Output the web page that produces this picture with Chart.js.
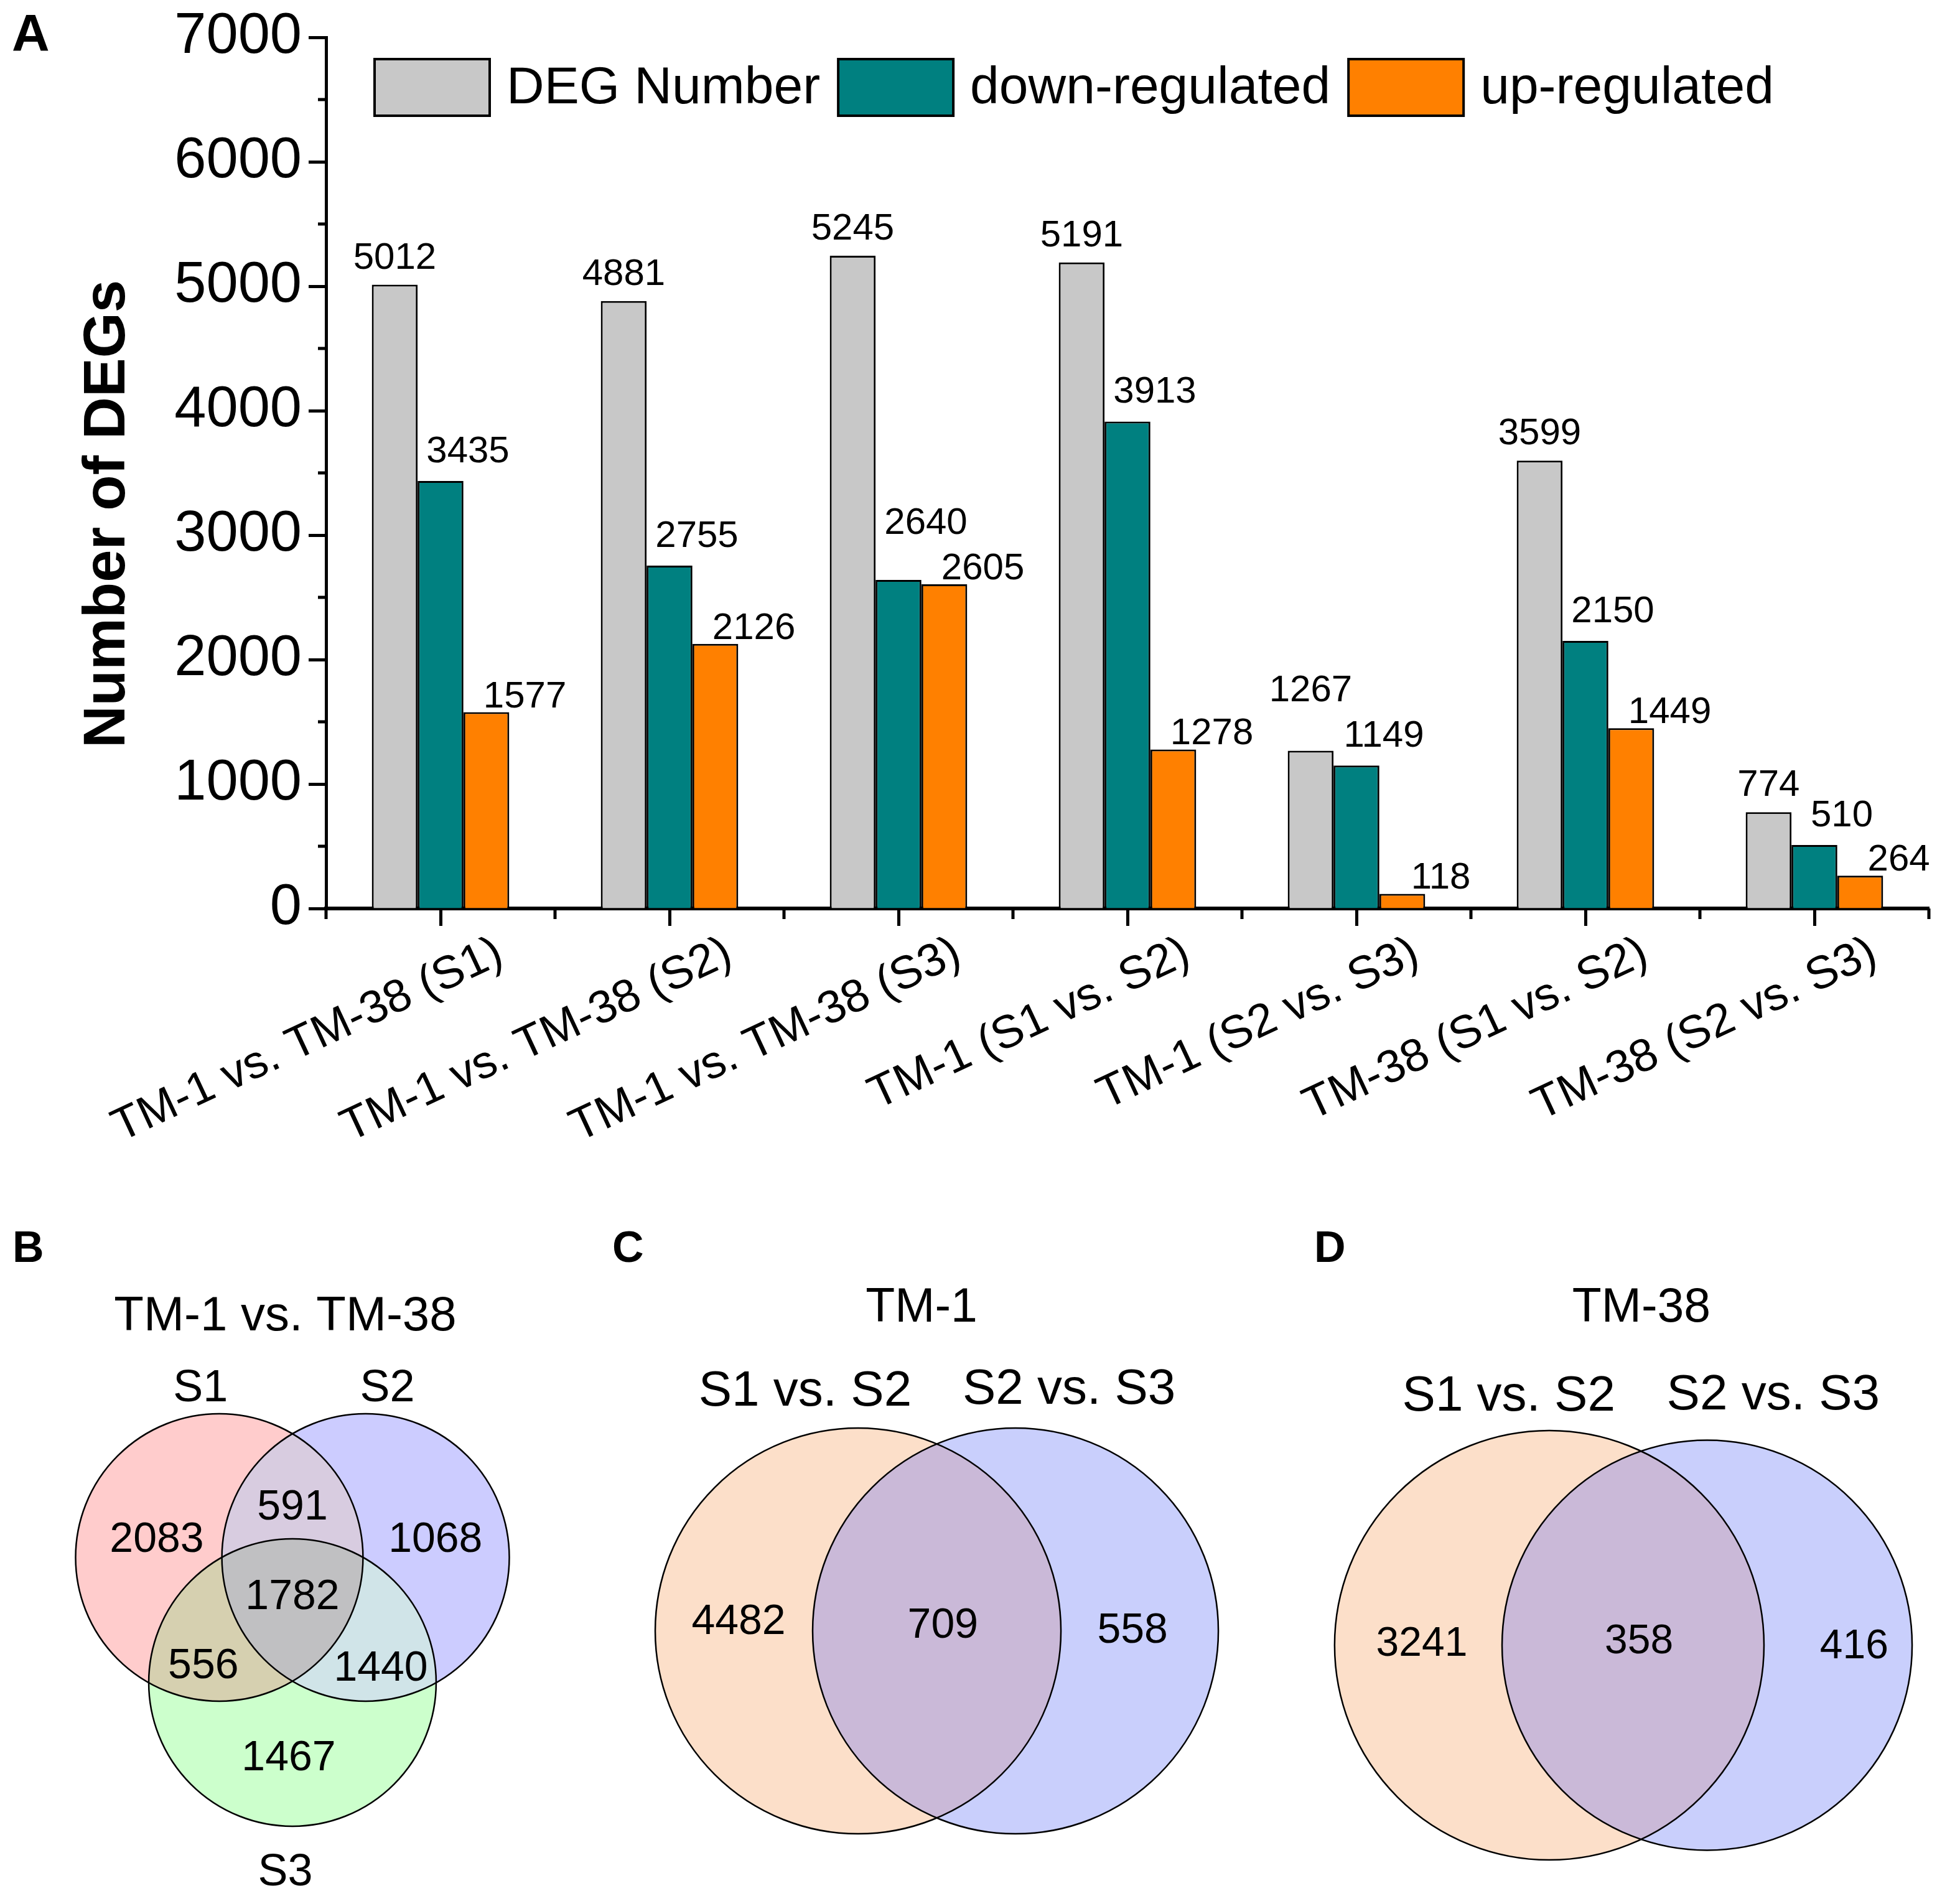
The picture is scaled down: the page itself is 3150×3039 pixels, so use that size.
<!DOCTYPE html>
<html>
<head>
<meta charset="utf-8">
<title>DEG numbers and Venn diagrams</title>
<script src="https://cdn.jsdelivr.net/npm/chart.js@4.4.1/dist/chart.umd.min.js"></script>
<style>
  body { margin: 0; background: #fff; width: 3150px; height: 3039px; position: relative; overflow: hidden; }
  canvas { position: absolute; }
  .panel { position: absolute; font-family: 'Liberation Sans', Arial, sans-serif; font-weight: bold; line-height: 1; color: #000; }
</style>
</head>
<body>
<canvas id="bars" width="3150" height="1900" style="left:0;top:0"></canvas>
<canvas id="vennB" width="940" height="1139" style="left:0;top:1900px"></canvas>
<canvas id="vennC" width="1100" height="1139" style="left:950px;top:1900px"></canvas>
<canvas id="vennD" width="1100" height="1139" style="left:2050px;top:1900px"></canvas>
<div class="panel" style="left:19px;top:11px;font-size:84px">A</div>
<div class="panel" style="left:20px;top:1969px;font-size:70px">B</div>
<div class="panel" style="left:984px;top:1969px;font-size:70px">C</div>
<div class="panel" style="left:2112px;top:1969px;font-size:70px">D</div>
<script>
// Panel A data
var categories = ['TM-1 vs. TM-38 (S1)', 'TM-1 vs. TM-38 (S2)', 'TM-1 vs. TM-38 (S3)',
                  'TM-1 (S1 vs. S2)', 'TM-1 (S2 vs. S3)', 'TM-38 (S1 vs. S2)', 'TM-38 (S2 vs. S3)'];
var degNumber     = [5012, 4881, 5245, 5191, 1267, 3599, 774];
var downRegulated = [3435, 2755, 2640, 3913, 1149, 2150, 510];
var upRegulated   = [1577, 2126, 2605, 1278, 118, 1449, 264];
var seriesNames  = ['DEG Number', 'down-regulated', 'up-regulated'];
var seriesColors = ['#c8c8c8', '#008080', '#ff8000'];
var yMin = 0, yMax = 7000, yStep = 1000;

// Venn data (panels B, C, D)
var vennBTitle  = 'TM-1 vs. TM-38';
var vennBSets   = ['S1', 'S2', 'S3'];
var vennBCounts = [2083, 591, 1068, 556, 1782, 1440, 1467];
var vennCTitle  = 'TM-1';
var vennCSets   = ['S1 vs. S2', 'S2 vs. S3'];
var vennCCounts = [4482, 709, 558];
var vennDTitle  = 'TM-38';
var vennDSets   = ['S1 vs. S2', 'S2 vs. S3'];
var vennDCounts = [3241, 358, 416];

var FONT = "'Liberation Sans', Arial, sans-serif";
Chart.defaults.font.family = FONT;
Chart.defaults.color = '#000';

// ----------------------------------------
// Panel A: grouped bar chart
// ----------------------------------------

// short ticks between the long ones (y at half steps, x at category edges)
var minorTicks = {
  id: 'minorTicks',
  afterDraw: function(chart) {
    var ctx = chart.ctx, x = chart.scales.x, y = chart.scales.y;
    ctx.save();
    ctx.strokeStyle = '#000';
    ctx.lineWidth = 5;
    ctx.beginPath();
    for (var v = yMin + yStep / 2; v < yMax; v += yStep) {
      var py = y.getPixelForValue(v);
      ctx.moveTo(chart.chartArea.left - 13, py);
      ctx.lineTo(chart.chartArea.left, py);
    }
    for (var i = 0; i <= categories.length; i++) {
      var px = x.getPixelForValue(i - 0.5);
      ctx.moveTo(px, chart.chartArea.bottom);
      ctx.lineTo(px, chart.chartArea.bottom + 17);
    }
    ctx.stroke();
    ctx.restore();
  }
};

// numbers above the bars, lifted when they run into the next label
var labelShift = [0, 44, 62];
var labelGap = [26, 30, 8];
var valueLabels = {
  id: 'valueLabels',
  afterDatasetsDraw: function(chart) {
    var ctx = chart.ctx;
    var size = 60, capH = 0.72 * size;
    ctx.save();
    ctx.font = size + 'px ' + FONT;
    ctx.fillStyle = '#000';
    ctx.textAlign = 'center';
    ctx.textBaseline = 'alphabetic';
    for (var i = 0; i < categories.length; i++) {
      var boxes = [];
      for (var d = chart.data.datasets.length - 1; d >= 0; d--) {
        var bar = chart.getDatasetMeta(d).data[i];
        var txt = String(chart.data.datasets[d].data[i]);
        var w = ctx.measureText(txt).width;
        var cx = bar.x + labelShift[d];
        var base = bar.y - labelGap[d];
        for (var b = 0; b < boxes.length; b++) {
          var o = boxes[b];
          var hit = cx - w / 2 < o.r && cx + w / 2 > o.l && base - capH < o.bottom && base > o.top;
          if (hit) base = o.top - 30;
        }
        boxes.push({ l: cx - w / 2, r: cx + w / 2, top: base - capH, bottom: base });
        ctx.fillText(txt, cx, base);
      }
    }
    ctx.restore();
  }
};

// legend row drawn inside the plot area
var legendRow = {
  id: 'legendRow',
  afterDraw: function(chart) {
    var ctx = chart.ctx;
    var x = 602, top = 95, bw = 185, bh = 91;
    ctx.save();
    ctx.font = '84px ' + FONT;
    ctx.textBaseline = 'alphabetic';
    chart.data.datasets.forEach(function(ds) {
      ctx.fillStyle = ds.backgroundColor;
      ctx.fillRect(x, top, bw, bh);
      ctx.strokeStyle = '#000';
      ctx.lineWidth = 4;
      ctx.strokeRect(x, top, bw, bh);
      ctx.fillStyle = '#000';
      var tx = x + bw + 27;
      ctx.fillText(ds.label, tx, 166);
      x = tx + ctx.measureText(ds.label).width + 29;
    });
    ctx.restore();
  }
};

var yTitle = {
  id: 'yTitle',
  afterDraw: function(chart) {
    var ctx = chart.ctx;
    ctx.save();
    ctx.translate(174, 826);
    ctx.rotate(-Math.PI / 2);
    ctx.font = 'bold 94px ' + FONT;
    ctx.fillStyle = '#000';
    ctx.textAlign = 'center';
    ctx.textBaseline = 'middle';
    ctx.fillText('Number of DEGs', 0, 0);
    ctx.restore();
  }
};

var barChart = new Chart(document.getElementById('bars'), {
  type: 'bar',
  data: {
    labels: categories,
    datasets: [degNumber, downRegulated, upRegulated].map(function(vals, k) {
      return {
        label: seriesNames[k],
        data: vals,
        backgroundColor: seriesColors[k],
        borderColor: '#000',
        borderWidth: 3,
        categoryPercentage: 0.6,
        barPercentage: 1.0
      };
    })
  },
  options: {
    responsive: false,
    animation: false,
    devicePixelRatio: 1,
    events: [],
    layout: { padding: { top: 60, right: 50, left: 0, bottom: 0 } },
    plugins: { legend: { display: false }, tooltip: { enabled: false } },
    scales: {
      x: {
        grid: { offset: false, drawOnChartArea: false, tickLength: 28, tickWidth: 5, tickColor: '#000' },
        border: { color: '#000', width: 6 },
        ticks: { autoSkip: false, minRotation: 25, maxRotation: 25, labelOffset: 96, padding: 0,
                 color: '#000', font: { size: 74 } },
        afterFit: function(s) { s.height = 440; }
      },
      y: {
        min: yMin,
        max: yMax,
        grid: { drawOnChartArea: false, tickLength: 28, tickWidth: 5, tickColor: '#000' },
        border: { color: '#000', width: 5 },
        ticks: { stepSize: yStep, padding: 11, color: '#000', font: { size: 92 },
                 callback: function(v) { return String(v); } },
        afterFit: function(s) { s.width = 524; s.paddingTop = 0; s.paddingBottom = 0; }
      }
    }
  },
  plugins: [minorTicks, valueLabels, legendRow, yTitle]
});

// ----------------------------------------
// Panels B-D: Venn diagrams on hidden linear scales (1 unit = circle radius)
// ----------------------------------------

function circleRadius(ctx) {
  var s = ctx.chart.scales.x;
  return s.getPixelForValue(ctx.raw.r) - s.getPixelForValue(0);
}

// paints the overlap regions on top of the plain circle fills
var overlapFill = {
  id: 'overlapFill',
  afterDatasetDraw: function(chart, args) {
    if (args.index !== 0) return;
    var spec = chart.options.plugins.overlapFill;
    var ctx = chart.ctx, sx = chart.scales.x, sy = chart.scales.y;
    var circ = chart.data.datasets[0].data;
    spec.regions.forEach(function(reg) {
      ctx.save();
      reg.sets.forEach(function(k) {
        var c = circ[k];
        ctx.beginPath();
        ctx.arc(sx.getPixelForValue(c.x), sy.getPixelForValue(c.y),
                sx.getPixelForValue(c.r) - sx.getPixelForValue(0), 0, Math.PI * 2);
        ctx.clip();
      });
      ctx.fillStyle = reg.color;
      ctx.fillRect(0, 0, chart.width, chart.height);
      ctx.restore();
    });
  }
};

var vennText = {
  id: 'vennText',
  afterDraw: function(chart) {
    var spec = chart.options.plugins.vennText;
    var ctx = chart.ctx, sx = chart.scales.x, sy = chart.scales.y;
    ctx.save();
    ctx.fillStyle = '#000';
    ctx.textAlign = 'center';
    ctx.textBaseline = 'alphabetic';
    spec.items.forEach(function(it) {
      ctx.font = it.size + 'px ' + FONT;
      ctx.fillText(it.text, sx.getPixelForValue(it.x), sy.getPixelForValue(it.y) + 0.358 * it.size);
    });
    ctx.restore();
  }
};

function vennChart(id, v) {
  var items = [{ text: v.title, x: v.titlePos[0], y: v.titlePos[1], size: v.titleSize }];
  v.sets.forEach(function(s, k) {
    items.push({ text: s, x: v.setPos[k][0], y: v.setPos[k][1], size: v.setSize });
  });
  v.counts.forEach(function(n, k) {
    items.push({ text: String(n), x: v.countPos[k][0], y: v.countPos[k][1], size: v.countSize });
  });
  return new Chart(document.getElementById(id), {
    type: 'scatter',
    data: {
      datasets: [
        { data: v.circles, pointRadius: circleRadius, pointBackgroundColor: v.fills, pointBorderWidth: 0, order: 2 },
        { data: v.circles, pointRadius: circleRadius, pointBackgroundColor: 'rgba(0,0,0,0)',
          pointBorderColor: '#000', pointBorderWidth: 2.5, order: 1 }
      ]
    },
    options: {
      responsive: false,
      animation: false,
      devicePixelRatio: 1,
      events: [],
      layout: { padding: 0 },
      plugins: {
        legend: { display: false },
        tooltip: { enabled: false },
        overlapFill: { regions: v.overlaps },
        vennText: { items: items }
      },
      scales: {
        x: { type: 'linear', min: v.range[0], max: v.range[1], display: false },
        y: { type: 'linear', min: v.range[2], max: v.range[3], display: false }
      }
    },
    plugins: [overlapFill, vennText]
  });
}

vennChart('vennB', {
  title: vennBTitle, sets: vennBSets, counts: vennBCounts,
  circles: [{ x: -0.509, y: 0.29, r: 1 }, { x: 0.509, y: 0.29, r: 1 }, { x: 0, y: -0.58, r: 1 }],
  fills: ['#ffcccc', '#ccccff', '#ccffcc'],
  overlaps: [
    { sets: [0, 1], color: '#d8cce0' },
    { sets: [0, 2], color: '#d6d0b0' },
    { sets: [1, 2], color: '#d0e4e8' },
    { sets: [0, 1, 2], color: '#c0c0c2' }
  ],
  titlePos: [-0.05, 1.99], titleSize: 78,
  setPos: [[-0.64, 1.49], [0.66, 1.49], [-0.05, -1.88]], setSize: 72,
  countPos: [[-0.944, 0.433], [0, 0.66], [0.995, 0.433], [-0.62, -0.446], [0, 0.035], [0.615, -0.463], [-0.026, -1.087]],
  countSize: 68,
  range: [-2.035, 2.035, -2.030, 2.900]
});

vennChart('vennC', {
  title: vennCTitle, sets: vennCSets, counts: vennCCounts,
  circles: [{ x: -0.388, y: 0, r: 1 }, { x: 0.388, y: 0, r: 1 }],
  fills: ['#fcdfc9', '#c9cffc'],
  overlaps: [{ sets: [0, 1], color: '#cab9d8' }],
  titlePos: [-0.075, 1.61], titleSize: 77,
  setPos: [[-0.649, 1.2], [0.652, 1.209]], setSize: 80,
  countPos: [[-0.977, 0.061], [0.03, 0.04], [0.965, 0.018]],
  countSize: 68,
  range: [-1.704, 1.670, -1.282, 2.212]
});

vennChart('vennD', {
  title: vennDTitle, sets: vennDSets, counts: vennDCounts,
  circles: [{ x: -0.39, y: 0, r: 1 }, { x: 0.345, y: 0, r: 0.955 }],
  fills: ['#fcdfc9', '#c9cffc'],
  overlaps: [{ sets: [0, 1], color: '#cab9d8' }],
  titlePos: [0.039, 1.588], titleSize: 77,
  setPos: [[-0.579, 1.177], [0.653, 1.183]], setSize: 80,
  countPos: [[-0.984, 0.02], [0.028, 0.032], [1.03, 0.009]],
  countSize: 66,
  range: [-1.665, 1.523, -1.145, 2.157]
});
</script>
</body>
</html>
